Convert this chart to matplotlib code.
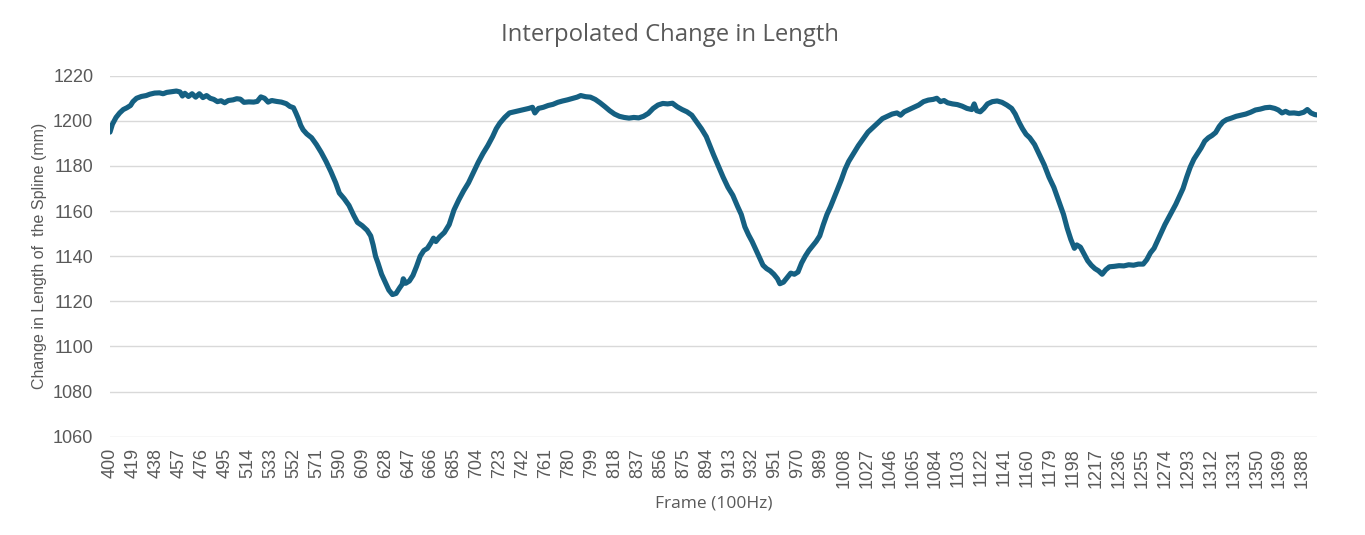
"""
plot.py

Interpolated change in spline length over frames 400-1400 (100 Hz capture).
Values read off the reference chart.

Output:
    out.png
"""
from __future__ import annotations

import matplotlib

matplotlib.use("Agg")
import matplotlib.pyplot as plt

FRAMES = [
    400, 402, 405, 408, 411, 414, 417, 419, 422, 426, 430, 433, 437, 441, 444, 447,
    451, 455, 458, 460, 462, 465, 468, 471, 474, 477, 480, 483, 486, 489, 492, 495,
    498, 502, 505, 508, 511, 515, 519, 522, 525, 528, 531, 534, 538, 542, 546, 549,
    552, 554, 556, 558, 560, 563, 567, 571, 575, 579, 583, 587, 590, 594, 598, 602,
    605, 609, 613, 616, 618, 620, 622, 625, 628, 631, 634, 637, 640, 642, 643, 645,
    648, 651, 654, 657, 660, 663, 666, 668, 670, 673, 677, 681, 685, 689, 693, 697,
    701, 705, 709, 713, 717, 720, 723, 727, 731, 735, 739, 743, 747, 750, 752, 755,
    759, 763, 767, 771, 775, 779, 783, 787, 790, 794, 798, 802, 806, 810, 814, 818,
    822, 826, 830, 834, 838, 842, 846, 850, 854, 858, 862, 866, 870, 874, 878, 882,
    886, 890, 894, 897, 900, 904, 908, 912, 916, 920, 923, 926, 929, 932, 935, 938,
    941, 944, 947, 950, 953, 955, 958, 961, 964, 967, 970, 973, 976, 979, 982, 985,
    988, 991, 994, 997, 1000, 1003, 1006, 1009, 1012, 1016, 1020, 1024, 1028, 1032, 1036, 1040,
    1044, 1048, 1052, 1055, 1058, 1062, 1066, 1070, 1074, 1078, 1082, 1085, 1088, 1091, 1094, 1098,
    1102, 1106, 1110, 1114, 1116, 1118, 1121, 1124, 1127, 1131, 1135, 1139, 1143, 1147, 1150, 1153,
    1156, 1159, 1162, 1166, 1170, 1174, 1178, 1182, 1186, 1190, 1193, 1196, 1199, 1201, 1204, 1207,
    1210, 1213, 1216, 1219, 1222, 1225, 1228, 1232, 1236, 1240, 1244, 1248, 1252, 1256, 1259, 1262,
    1265, 1268, 1271, 1274, 1277, 1280, 1283, 1286, 1289, 1292, 1295, 1298, 1301, 1304, 1307, 1310,
    1313, 1316, 1319, 1322, 1325, 1329, 1333, 1337, 1341, 1345, 1349, 1353, 1357, 1361, 1365, 1368,
    1371, 1374, 1377, 1381, 1385, 1389, 1392, 1395, 1398, 1400,
]

LENGTH_MM = [
    1195.0, 1198.5, 1201.5, 1203.5, 1205.0, 1205.8, 1206.8, 1208.5, 1210.0, 1210.8, 1211.2, 1211.8, 1212.3, 1212.4, 1212.0, 1212.6,
    1212.9, 1213.2, 1212.8, 1211.0, 1212.2, 1210.8, 1212.0, 1210.5, 1212.0, 1210.3, 1211.2, 1210.0, 1209.5, 1208.5, 1208.9, 1208.0,
    1209.0, 1209.3, 1209.8, 1209.6, 1208.2, 1208.4, 1208.3, 1208.6, 1210.6, 1210.0, 1208.3, 1209.0, 1208.6, 1208.3, 1207.6, 1206.4,
    1205.8, 1203.5, 1201.0, 1198.0, 1196.0, 1194.2, 1192.5, 1189.5, 1186.0, 1182.0, 1177.5, 1172.5, 1168.0, 1165.5, 1162.5, 1158.0,
    1155.0, 1153.5, 1151.5, 1149.0, 1145.0, 1140.0, 1137.0, 1132.0, 1128.5, 1125.0, 1123.0, 1123.5, 1126.0, 1127.5, 1130.0, 1128.0,
    1129.0, 1131.5, 1135.5, 1140.0, 1142.5, 1143.5, 1146.0, 1148.0, 1146.5, 1148.5, 1150.5, 1154.0, 1160.5, 1165.0, 1169.0, 1172.5,
    1177.0, 1181.5, 1185.5, 1189.0, 1193.0, 1196.5, 1199.0, 1201.5, 1203.5, 1204.0, 1204.5, 1205.0, 1205.5, 1206.0, 1203.5, 1205.5,
    1206.0, 1206.8, 1207.3, 1208.2, 1208.8, 1209.3, 1209.9, 1210.5, 1211.2, 1210.7, 1210.5, 1209.5, 1208.0, 1206.3, 1204.5, 1203.0,
    1202.0, 1201.5, 1201.2, 1201.5, 1201.3, 1202.0, 1203.3, 1205.5, 1207.0, 1207.7, 1207.5, 1207.8, 1206.2, 1205.0, 1204.0, 1202.5,
    1199.5, 1196.5, 1193.0, 1189.0, 1185.0, 1180.0, 1175.0, 1170.5, 1167.0, 1162.0, 1158.5, 1153.0, 1149.5, 1146.5, 1143.0, 1139.5,
    1136.0, 1134.5, 1133.5, 1132.0, 1130.0, 1127.8, 1128.5, 1130.5, 1132.5, 1132.0, 1133.0, 1137.0, 1140.0, 1142.5, 1144.5, 1146.5,
    1149.0, 1154.0, 1158.5, 1162.0, 1166.0, 1170.0, 1174.0, 1178.5, 1182.0, 1185.5, 1189.0, 1192.0, 1195.0, 1197.0, 1199.0, 1201.0,
    1202.0, 1203.0, 1203.5, 1202.5, 1204.0, 1205.0, 1206.0, 1207.0, 1208.5, 1209.2, 1209.5, 1210.0, 1208.5, 1209.0, 1208.0, 1207.5,
    1207.2, 1206.5, 1205.5, 1205.0, 1207.5, 1204.5, 1204.0, 1205.5, 1207.5, 1208.5, 1208.8, 1208.2, 1207.0, 1205.5, 1203.0, 1199.5,
    1196.5, 1194.0, 1192.5, 1189.5, 1185.0, 1180.5, 1175.0, 1170.5, 1164.5, 1158.5, 1152.5, 1147.5, 1143.5, 1145.0, 1144.0, 1141.0,
    1138.0, 1136.0, 1134.5, 1133.5, 1132.0, 1134.0, 1135.3, 1135.5, 1135.8, 1135.7, 1136.2, 1136.0, 1136.5, 1136.5, 1138.5, 1141.5,
    1143.5, 1147.0, 1150.5, 1154.0, 1157.0, 1160.0, 1163.0, 1166.5, 1170.0, 1175.0, 1179.5, 1183.0, 1185.5, 1188.0, 1191.0, 1192.5,
    1193.5, 1194.8, 1197.5, 1199.5, 1200.5, 1201.2, 1202.0, 1202.5, 1203.0, 1203.8, 1204.8, 1205.2, 1205.8, 1206.0, 1205.5, 1204.8,
    1203.5, 1204.2, 1203.4, 1203.5, 1203.2, 1203.8, 1205.0, 1203.5, 1202.8, 1202.6,
]

X_TICKS = list(range(400, 1400, 19))
Y_TICKS = [1060, 1080, 1100, 1120, 1140, 1160, 1180, 1200, 1220]

LINE_COLOR = "#156082"
TEXT_COLOR = "#595959"
GRID_COLOR = "#D9D9D9"


def main() -> None:
    plt.rcParams["font.family"] = ["Liberation Sans", "DejaVu Sans"]

    fig = plt.figure(figsize=(13.65, 5.35), dpi=100)
    ax = fig.add_axes([110 / 1365, 1 - 436.7 / 535, (1317 - 110) / 1365, (436.7 - 75.7) / 535])

    ax.plot(FRAMES, LENGTH_MM, color=LINE_COLOR, linewidth=3.7, solid_joinstyle="round",
            solid_capstyle="round", zorder=3)

    ax.set_xlim(400, 1400)
    ax.set_ylim(1060, 1220)
    ax.set_xticks(X_TICKS)
    ax.set_xticklabels([str(t) for t in X_TICKS], rotation=90)
    ax.set_yticks(Y_TICKS)
    ax.tick_params(axis="both", length=0, colors=TEXT_COLOR, labelsize=13)
    ax.tick_params(axis="x", pad=8)
    ax.tick_params(axis="y", pad=12)

    ax.grid(axis="y", color=GRID_COLOR, linewidth=1.0, zorder=0)
    ax.set_axisbelow(True)
    for side in ["top", "right", "left", "bottom"]:
        ax.spines[side].set_visible(False)

    fig.text(670 / 1365, 1 - 35 / 535, "Interpolated Change in Length", ha="center", va="center",
             fontsize=17.2, color=TEXT_COLOR, family=["Open Sans", "DejaVu Sans"])
    fig.text(714 / 1365, 1 - 503 / 535, "Frame (100Hz)", ha="center", va="center",
             fontsize=12.5, color=TEXT_COLOR, family=["Open Sans", "DejaVu Sans"])
    fig.text(40 / 1365, 1 - 256 / 535, "Change in Length of  the Spline (mm)", ha="center", va="center",
             rotation=90, fontsize=11.5, color=TEXT_COLOR)

    fig.savefig("out.png", dpi=100)
    plt.close(fig)


if __name__ == "__main__":
    main()
